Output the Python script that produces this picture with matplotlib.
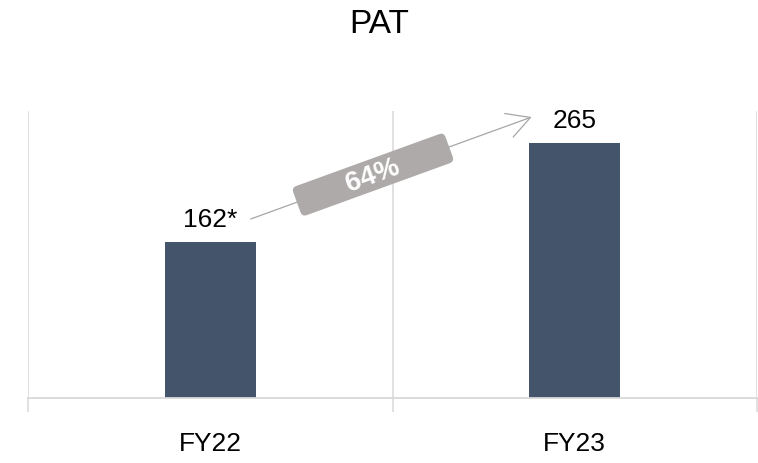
import matplotlib
matplotlib.use("Agg")
import matplotlib.pyplot as plt
from matplotlib.patches import FancyBboxPatch
from matplotlib.transforms import Affine2D, IdentityTransform

categories = ["FY22", "FY23"]
values = [162, 265]
value_labels = ["162*", "265"]
growth_label = "64%"
title = "PAT"

plt.rcParams['font.family'] = ['Liberation Sans', 'DejaVu Sans']

W, H = 758, 464
fig = plt.figure(figsize=(W / 100, H / 100), dpi=100)
ax = fig.add_axes([28 / W, (H - 399) / H, (757 - 28) / W, (399 - 112) / H])

bar_color = "#44546a"
grid_color = "#d9d9d9"
x = list(range(len(categories)))
ax.bar(x, values, width=0.25, color=bar_color, zorder=2)
for xi, v, lab in zip(x, values, value_labels):
    ax.annotate(lab, (xi, v), xytext=(0, 8), textcoords="offset points",
                ha="center", va="bottom", fontsize=19, color="black")

ax.set_xlim(-0.5, len(categories) - 0.5)
ax.set_ylim(0, 298)
ax.set_yticks([])
ax.set_xticks(x)
ax.set_xticklabels(categories, fontsize=19)
ax.set_xticks([i - 0.5 for i in range(len(categories) + 1)], minor=True)
ax.tick_params(axis="x", which="major", length=0, pad=24)
ax.tick_params(axis="x", which="minor", length=10, width=1.1, color=grid_color, direction="out")
ax.xaxis.grid(True, which="minor", color=grid_color, linewidth=1.1, zorder=0)
for s in ["top", "left", "right"]:
    ax.spines[s].set_visible(False)
ax.spines["bottom"].set_color(grid_color)
ax.spines["bottom"].set_linewidth(1.3)

fig.text(0.5, (H - 33) / H, title, ha="center", va="baseline", fontsize=24)

# growth arrow (figure pixels)
arrow_col = "#a6a6a6"
x0, y0 = 250.7, H - 220
x1, y1 = 531.7, H - 118
ax.annotate("", xy=(x1, y1), xytext=(x0, y0), xycoords="figure pixels",
            textcoords="figure pixels",
            arrowprops=dict(arrowstyle="->,head_length=0.55,head_width=0.3",
                            color=arrow_col, lw=0.9, mutation_scale=30,
                            shrinkA=0, shrinkB=0))

import math
ang = math.degrees(math.atan2(y1 - y0, x1 - x0))
cx = 373
cy = y0 + (cx - x0) * (y1 - y0) / (x1 - x0)
bw, bh = 162, 31
badge = FancyBboxPatch((-bw / 2, -bh / 2), bw, bh,
                       boxstyle="round,pad=0,rounding_size=5",
                       facecolor="#aeaaaa", edgecolor="none",
                       transform=Affine2D().rotate_deg(ang).translate(cx, cy) + IdentityTransform(),
                       zorder=5)
fig.add_artist(badge)
fig.text(cx / W, cy / H, growth_label, ha="center", va="center", rotation=ang,
         rotation_mode="anchor", fontsize=20, fontweight="bold", color="white", zorder=6)

fig.savefig("out.png", dpi=100)
